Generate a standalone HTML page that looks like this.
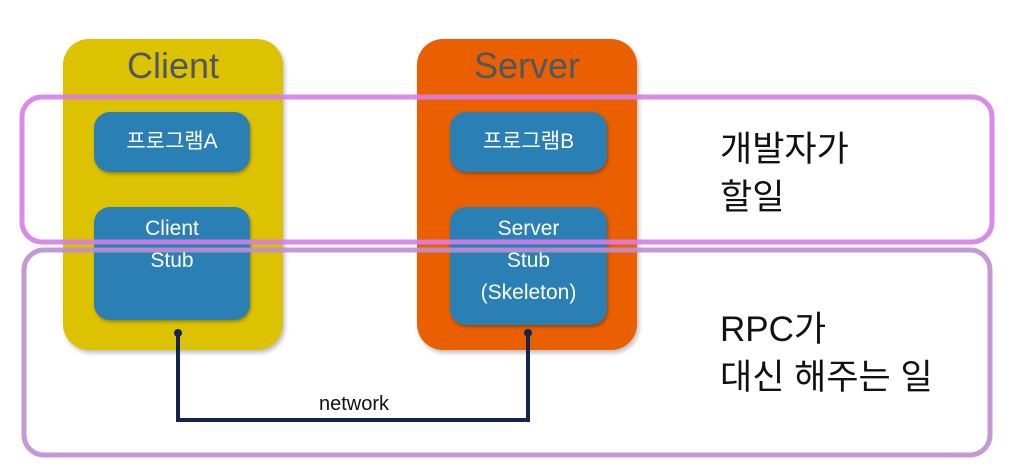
<!DOCTYPE html>
<html><head><meta charset="utf-8"><style>
body{margin:0;width:1014px;height:476px;background:#fff;position:relative;overflow:hidden;font-family:"Liberation Sans","Noto Sans CJK KR",sans-serif}
.abs{position:absolute}
.big{border-radius:26px;box-shadow:2px 3px 4px rgba(0,0,0,.25)}
.title{position:absolute;left:0;right:0;top:6px;text-align:center;font-size:36px;color:#4d5860}
.blue{position:absolute;background:#2a7fb4;border-radius:16px;color:#fff;text-align:center;font-size:21px;line-height:32px;box-shadow:1px 2px 3px rgba(0,0,0,.3)}
.txt{position:absolute;font-size:35px;color:#111;line-height:48px}
</style></head><body>
<div class="abs big" style="left:63px;top:39px;width:220px;height:311px;background:#dcc200"><div class="title">Client</div></div>
<div class="abs big" style="left:417px;top:39px;width:220px;height:311px;background:#ea5f00"><div class="title">Server</div></div>
<div class="blue" style="left:94px;top:112px;width:156px;height:60px;line-height:60px">프로그램A</div>
<div class="blue" style="left:94px;top:207px;width:156px;height:113px;padding-top:6px;box-sizing:border-box">Client<br>Stub</div>
<div class="blue" style="left:450px;top:112px;width:157px;height:60px;line-height:60px">프로그램B</div>
<div class="blue" style="left:450px;top:207px;width:157px;height:118px;padding-top:6px;box-sizing:border-box">Server<br>Stub<br>(Skeleton)</div>
<svg class="abs" style="left:0;top:0" width="1014" height="476">
<rect x="22" y="97" width="970" height="145" rx="20" fill="none" stroke="#d67ee8" stroke-width="5" opacity=".9"/>
<rect x="24" y="250" width="966" height="205" rx="20" fill="none" stroke="#bf8ed2" stroke-width="5" opacity=".9"/>
<path d="M178 333 V420 H528 V333" fill="none" stroke="#13254f" stroke-width="4"/>
<circle cx="178" cy="333" r="4" fill="#13254f"/><circle cx="528" cy="333" r="4" fill="#13254f"/>
<text x="354" y="410" font-size="20" text-anchor="middle" fill="#111" font-family="Liberation Sans, sans-serif">network</text>
</svg>
<div class="txt" style="left:720px;top:126px">개발자가<br>할일</div>
<div class="txt" style="left:720px;top:306px">RPC가<br>대신 해주는 일</div>
</body></html>
